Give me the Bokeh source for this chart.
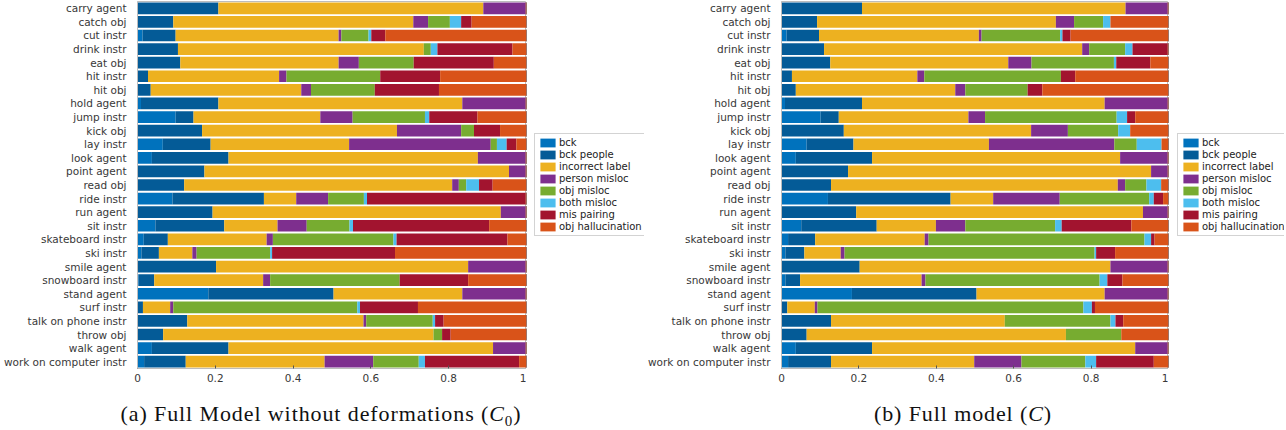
from bokeh.plotting import figure
from bokeh.models import ColumnDataSource, Legend, FixedTicker, Range1d, FactorRange, Div
from bokeh.layouts import row, column
from bokeh.embed import file_html
from bokeh.resources import INLINE

categories = ["carry agent", "catch obj", "cut instr", "drink instr", "eat obj", "hit instr", "hit obj",
              "hold agent", "jump instr", "kick obj", "lay instr", "look agent", "point agent", "read obj",
              "ride instr", "run agent", "sit instr", "skateboard instr", "ski instr", "smile agent",
              "snowboard instr", "stand agent", "surf instr", "talk on phone instr", "throw obj",
              "walk agent", "work on computer instr"]

series_names = ["bck", "bck people", "incorrect label", "person misloc", "obj misloc",
                "both misloc", "mis pairing", "obj hallucination"]
colors = ["#0072BD", "#045B97", "#EDB120", "#7E2F8E", "#77AC30", "#4DBEEE", "#A2142F", "#D95319"]

xtick_values = [0, 0.2, 0.4, 0.6, 0.8, 1]
xtick_labels = ["0", "0.2", "0.4", "0.6", "0.8", "1"]

# (a) Full Model without deformations (C0)
c0_bck = [0, 0, 0.013, 0, 0, 0, 0, 0.009, 0.098, 0, 0.065, 0.037, 0, 0, 0.090, 0, 0.046, 0.016, 0.010, 0, 0.003, 0.182, 0, 0, 0, 0.037, 0.017]
c0_bck_people = [0.208, 0.092, 0.085, 0.104, 0.110, 0.027, 0.034, 0.199, 0.046, 0.166, 0.123, 0.197, 0.172, 0.120, 0.235, 0.193, 0.177, 0.062, 0.045, 0.202, 0.040, 0.322, 0.014, 0.128, 0.066, 0.197, 0.107]
c0_incorrect = [0.681, 0.617, 0.419, 0.632, 0.407, 0.337, 0.387, 0.627, 0.326, 0.501, 0.356, 0.641, 0.783, 0.689, 0.083, 0.741, 0.137, 0.254, 0.086, 0.648, 0.280, 0.331, 0.070, 0.453, 0.695, 0.680, 0.357]
c0_person_misloc = [0.109, 0.038, 0.007, 0, 0.052, 0.019, 0.025, 0.163, 0.083, 0.165, 0.364, 0.123, 0.043, 0.017, 0.082, 0.064, 0.075, 0.016, 0.011, 0.148, 0.018, 0.163, 0.008, 0.007, 0, 0.084, 0.125]
c0_obj_misloc = [0, 0.056, 0.070, 0.018, 0.141, 0.241, 0.164, 0, 0.186, 0.033, 0.016, 0, 0, 0.019, 0.092, 0, 0.110, 0.310, 0.189, 0, 0.333, 0, 0.473, 0.171, 0.022, 0, 0.117]
c0_both_misloc = [0, 0.029, 0.007, 0.017, 0, 0, 0, 0, 0.011, 0, 0.025, 0, 0, 0.033, 0.008, 0, 0.009, 0.008, 0.005, 0, 0, 0, 0.007, 0.006, 0, 0, 0.016]
c0_mis_pairing = [0, 0.027, 0.036, 0.193, 0.206, 0.154, 0.165, 0, 0.124, 0.067, 0.025, 0, 0, 0.035, 0.408, 0, 0.350, 0.285, 0.316, 0, 0.176, 0, 0.149, 0.022, 0.022, 0, 0.242]
c0_obj_halluc = [0.002, 0.141, 0.363, 0.036, 0.084, 0.222, 0.225, 0.002, 0.126, 0.068, 0.026, 0.002, 0.002, 0.087, 0.002, 0.002, 0.096, 0.049, 0.338, 0.002, 0.150, 0.002, 0.279, 0.213, 0.195, 0.002, 0.019]

# (b) Full model (C)
c_bck = [0, 0, 0.013, 0, 0, 0, 0, 0.009, 0.101, 0, 0.065, 0.037, 0, 0, 0.120, 0, 0.051, 0.017, 0.010, 0, 0.010, 0.182, 0, 0, 0, 0.037, 0.017]
c_bck_people = [0.208, 0.092, 0.084, 0.110, 0.126, 0.027, 0.037, 0.199, 0.047, 0.161, 0.121, 0.197, 0.172, 0.128, 0.317, 0.193, 0.195, 0.070, 0.049, 0.202, 0.038, 0.322, 0.015, 0.128, 0.065, 0.197, 0.111]
c_incorrect = [0.681, 0.617, 0.413, 0.667, 0.460, 0.324, 0.412, 0.627, 0.335, 0.484, 0.350, 0.641, 0.783, 0.741, 0.110, 0.741, 0.153, 0.283, 0.094, 0.648, 0.314, 0.331, 0.071, 0.449, 0.670, 0.680, 0.370]
c_person_misloc = [0.109, 0.047, 0.007, 0.018, 0.060, 0.018, 0.026, 0.163, 0.043, 0.095, 0.324, 0.123, 0.043, 0.019, 0.172, 0.064, 0.076, 0.010, 0.010, 0.148, 0.010, 0.163, 0.007, 0, 0, 0.084, 0.122]
c_obj_misloc = [0, 0.075, 0.203, 0.093, 0.213, 0.353, 0.161, 0, 0.340, 0.130, 0.058, 0, 0, 0.055, 0.231, 0, 0.232, 0.558, 0.646, 0, 0.450, 0, 0.687, 0.273, 0.143, 0, 0.165]
c_both_misloc = [0, 0.019, 0.006, 0.019, 0.006, 0, 0, 0, 0.027, 0.031, 0.064, 0, 0, 0.038, 0.012, 0, 0.017, 0.017, 0.004, 0, 0.020, 0, 0.022, 0.013, 0, 0, 0.028]
c_mis_pairing = [0, 0, 0.021, 0.091, 0.088, 0.037, 0.038, 0, 0.021, 0, 0, 0, 0, 0, 0.024, 0, 0.180, 0.009, 0.049, 0, 0.039, 0, 0.008, 0.020, 0, 0, 0.149]
c_obj_halluc = [0.002, 0.150, 0.253, 0.002, 0.047, 0.241, 0.326, 0.002, 0.086, 0.099, 0.018, 0.002, 0.002, 0.019, 0.014, 0.002, 0.096, 0.036, 0.138, 0.002, 0.119, 0.002, 0.190, 0.117, 0.122, 0.002, 0.038]

c0_series = [c0_bck, c0_bck_people, c0_incorrect, c0_person_misloc, c0_obj_misloc, c0_both_misloc, c0_mis_pairing, c0_obj_halluc]
c_series = [c_bck, c_bck_people, c_incorrect, c_person_misloc, c_obj_misloc, c_both_misloc, c_mis_pairing, c_obj_halluc]

AXIS_GRAY = "#bcbcbc"
TEXT = "#383838"
FIG_H = 384


def make_source(series):
    keys = [f"s{i}" for i in range(len(series))]
    data = {"cat": categories}
    for k, v in zip(keys, series):
        data[k] = v
    return keys, ColumnDataSource(data)


def make_chart(series, frame_w, border_left):
    keys, src = make_source(series)
    p = figure(y_range=FactorRange(*categories[::-1]), x_range=Range1d(0, 1),
               frame_width=frame_w, height=FIG_H,
               output_backend="svg", toolbar_location=None,
               min_border_left=border_left, min_border_right=0,
               min_border_top=1, min_border_bottom=0,
               background_fill_color="white", border_fill_color="white")
    p.hbar_stack(keys, y="cat", height=0.86, color=colors, line_color=None, source=src)

    p.xgrid.grid_line_color = None
    p.ygrid.grid_line_color = None
    p.outline_line_color = AXIS_GRAY

    xa = p.xaxis[0]
    xa.ticker = FixedTicker(ticks=xtick_values)
    xa.major_label_overrides = {v: l for v, l in zip(xtick_values, xtick_labels)}
    xa.major_tick_in = 3
    xa.major_tick_out = 0
    xa.minor_tick_line_color = None
    xa.axis_line_color = AXIS_GRAY
    xa.major_tick_line_color = "#555555"
    xa.major_label_text_font = "DejaVu Sans"
    xa.major_label_text_font_size = "10.5px"
    xa.major_label_text_color = TEXT
    xa.major_label_standoff = 5

    ya = p.yaxis[0]
    ya.major_tick_line_color = None
    ya.minor_tick_line_color = None
    ya.axis_line_color = AXIS_GRAY
    ya.major_label_text_font = "DejaVu Sans"
    ya.major_label_text_font_size = "10.5px"
    ya.major_label_text_color = TEXT
    ya.major_label_standoff = 5
    return p


def make_legend(series, width, offset_x):
    # Legend panel: the same stacked bars, kept outside this panel's visible x range,
    # so that only the legend (which takes its swatches from them) shows.
    keys, src = make_source(series)
    lf = figure(width=width, height=FIG_H, x_range=Range1d(5, 6),
                y_range=FactorRange(*categories[::-1]),
                output_backend="svg", toolbar_location=None, min_border=0,
                outline_line_color=None, background_fill_color="white", border_fill_color="white")
    lf.axis.visible = False
    lf.xgrid.grid_line_color = None
    lf.ygrid.grid_line_color = None
    rs = lf.hbar_stack(keys, y="cat", height=0.86, color=colors, line_color=None, source=src)
    legend = Legend(items=[(n, [r]) for n, r in zip(series_names, rs)],
                    location=(offset_x, 132), orientation="vertical",
                    label_text_font="DejaVu Sans", label_text_font_size="10px",
                    label_text_color="#222222",
                    glyph_width=19, glyph_height=11, label_height=11,
                    label_standoff=2, spacing=1, padding=3, margin=0,
                    border_line_color="#a8a8a8", border_line_width=1,
                    background_fill_color="white", background_fill_alpha=1.0)
    lf.add_layout(legend)
    return lf


p1 = make_chart(c0_series, 389, 130)
l1 = make_legend(c0_series, 118, 8)
p2 = make_chart(c_series, 387, 134)
l2 = make_legend(c_series, 116, 9)

caption = Div(text=(
    '<div style="position:relative;width:1270px;height:34px;font-family:\'Liberation Serif\',serif;'
    'font-size:22px;letter-spacing:0.9px;color:#111;">'
    '<div style="position:absolute;left:66px;top:9px;width:500px;text-align:center;white-space:nowrap;">'
    '(a) Full Model without deformations (<i>C</i><sub style="font-size:15px;">0</sub>)</div>'
    '<div style="position:absolute;left:708px;top:9px;width:500px;text-align:center;white-space:nowrap;">'
    '(b) Full model (<i>C</i>)</div>'
    '</div>'), width=1270, height=34)

layout = column(row(p1, l1, p2, l2), caption)

open("out.html", "w").write(file_html(layout, INLINE))
